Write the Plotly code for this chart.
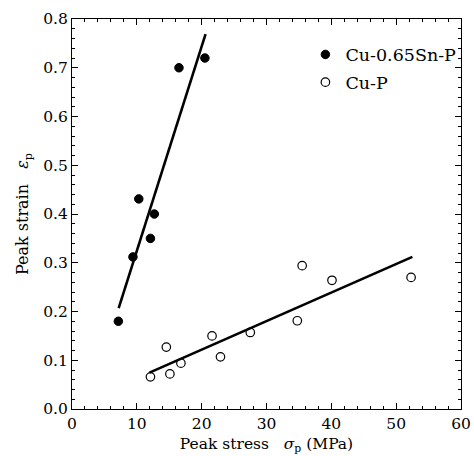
import plotly.graph_objects as go

# Cu-0.65Sn-P (filled)
sn_stress = [7.15, 9.4, 10.3, 12.1, 12.7, 16.5, 20.5]
sn_strain = [0.18, 0.312, 0.431, 0.35, 0.40, 0.70, 0.72]
sn_fit_x = [7.2, 20.6]
sn_fit_y = [0.207, 0.769]

# Cu-P (open)
cu_stress = [12.1, 14.55, 15.1, 16.8, 21.6, 22.9, 27.5, 34.75, 35.5, 40.1, 52.3]
cu_strain = [0.066, 0.127, 0.072, 0.094, 0.150, 0.107, 0.157, 0.181, 0.294, 0.264, 0.270]
cu_fit_x = [11.95, 52.5]
cu_fit_y = [0.0745, 0.312]

x_ticks = [0, 10, 20, 30, 40, 50, 60]
y_ticks = [0.0, 0.1, 0.2, 0.3, 0.4, 0.5, 0.6, 0.7, 0.8]

FONT = "DejaVu Serif"

fig = go.Figure()
fig.add_trace(go.Scatter(x=sn_fit_x, y=sn_fit_y, mode="lines",
                         line=dict(color="black", width=2.6), showlegend=False))
fig.add_trace(go.Scatter(x=cu_fit_x, y=cu_fit_y, mode="lines",
                         line=dict(color="black", width=2.6), showlegend=False))
fig.add_trace(go.Scatter(x=sn_stress, y=sn_strain, mode="markers", name="Cu-0.65Sn-P",
                         legendgroup="a",
                         marker=dict(symbol="circle", size=8.5, color="black",
                                     line=dict(color="black", width=1))))
fig.add_trace(go.Scatter(x=cu_stress, y=cu_strain, mode="markers", name="Cu-P",
                         legendgroup="b",
                         marker=dict(symbol="circle-open", size=8.5, color="black",
                                     line=dict(color="black", width=1.2))))

axis_common = dict(
    showline=True, linecolor="black", linewidth=1, mirror="ticks",
    ticks="inside", ticklen=6, tickwidth=1, tickcolor="black",
    showgrid=False, zeroline=False, automargin=False,
    tickfont=dict(family=FONT, size=15.5, color="black"),
)

fig.update_xaxes(range=[0, 60], tickvals=x_ticks, ticktext=[str(v) for v in x_ticks],
                 minor=dict(dtick=2, ticks="inside", ticklen=3, tickcolor="black", tickwidth=1),
                 title=dict(text="Peak stress\u00a0\u00a0\u00a0<i>σ</i><sub>p</sub> (MPa)",
                            font=dict(family=FONT, size=15.5, color="black"), standoff=6),
                 **axis_common)
fig.update_yaxes(range=[0, 0.8], tickvals=y_ticks, ticktext=[f"{v:.1f}" for v in y_ticks],
                 minor=dict(dtick=0.02, ticks="inside", ticklen=3, tickcolor="black", tickwidth=1),
                 title=dict(text="Peak strain\u00a0\u00a0\u00a0<i>ε</i><sub>p</sub>",
                            font=dict(family=FONT, size=16, color="black"), standoff=10),
                 **axis_common)

fig.update_layout(
    width=474, height=456,
    margin=dict(l=72, r=13, t=19, b=47),
    paper_bgcolor="white", plot_bgcolor="white",
    legend=dict(x=0.6, y=0.955, xanchor="left", yanchor="top",
                font=dict(family=FONT, size=17.5, color="black"),
                bgcolor="rgba(0,0,0,0)", itemwidth=30, tracegroupgap=2,
                traceorder="grouped"),
)

fig.write_html("out.html", post_script="document.body.style.margin='0';",
               config={"displayModeBar": False})
